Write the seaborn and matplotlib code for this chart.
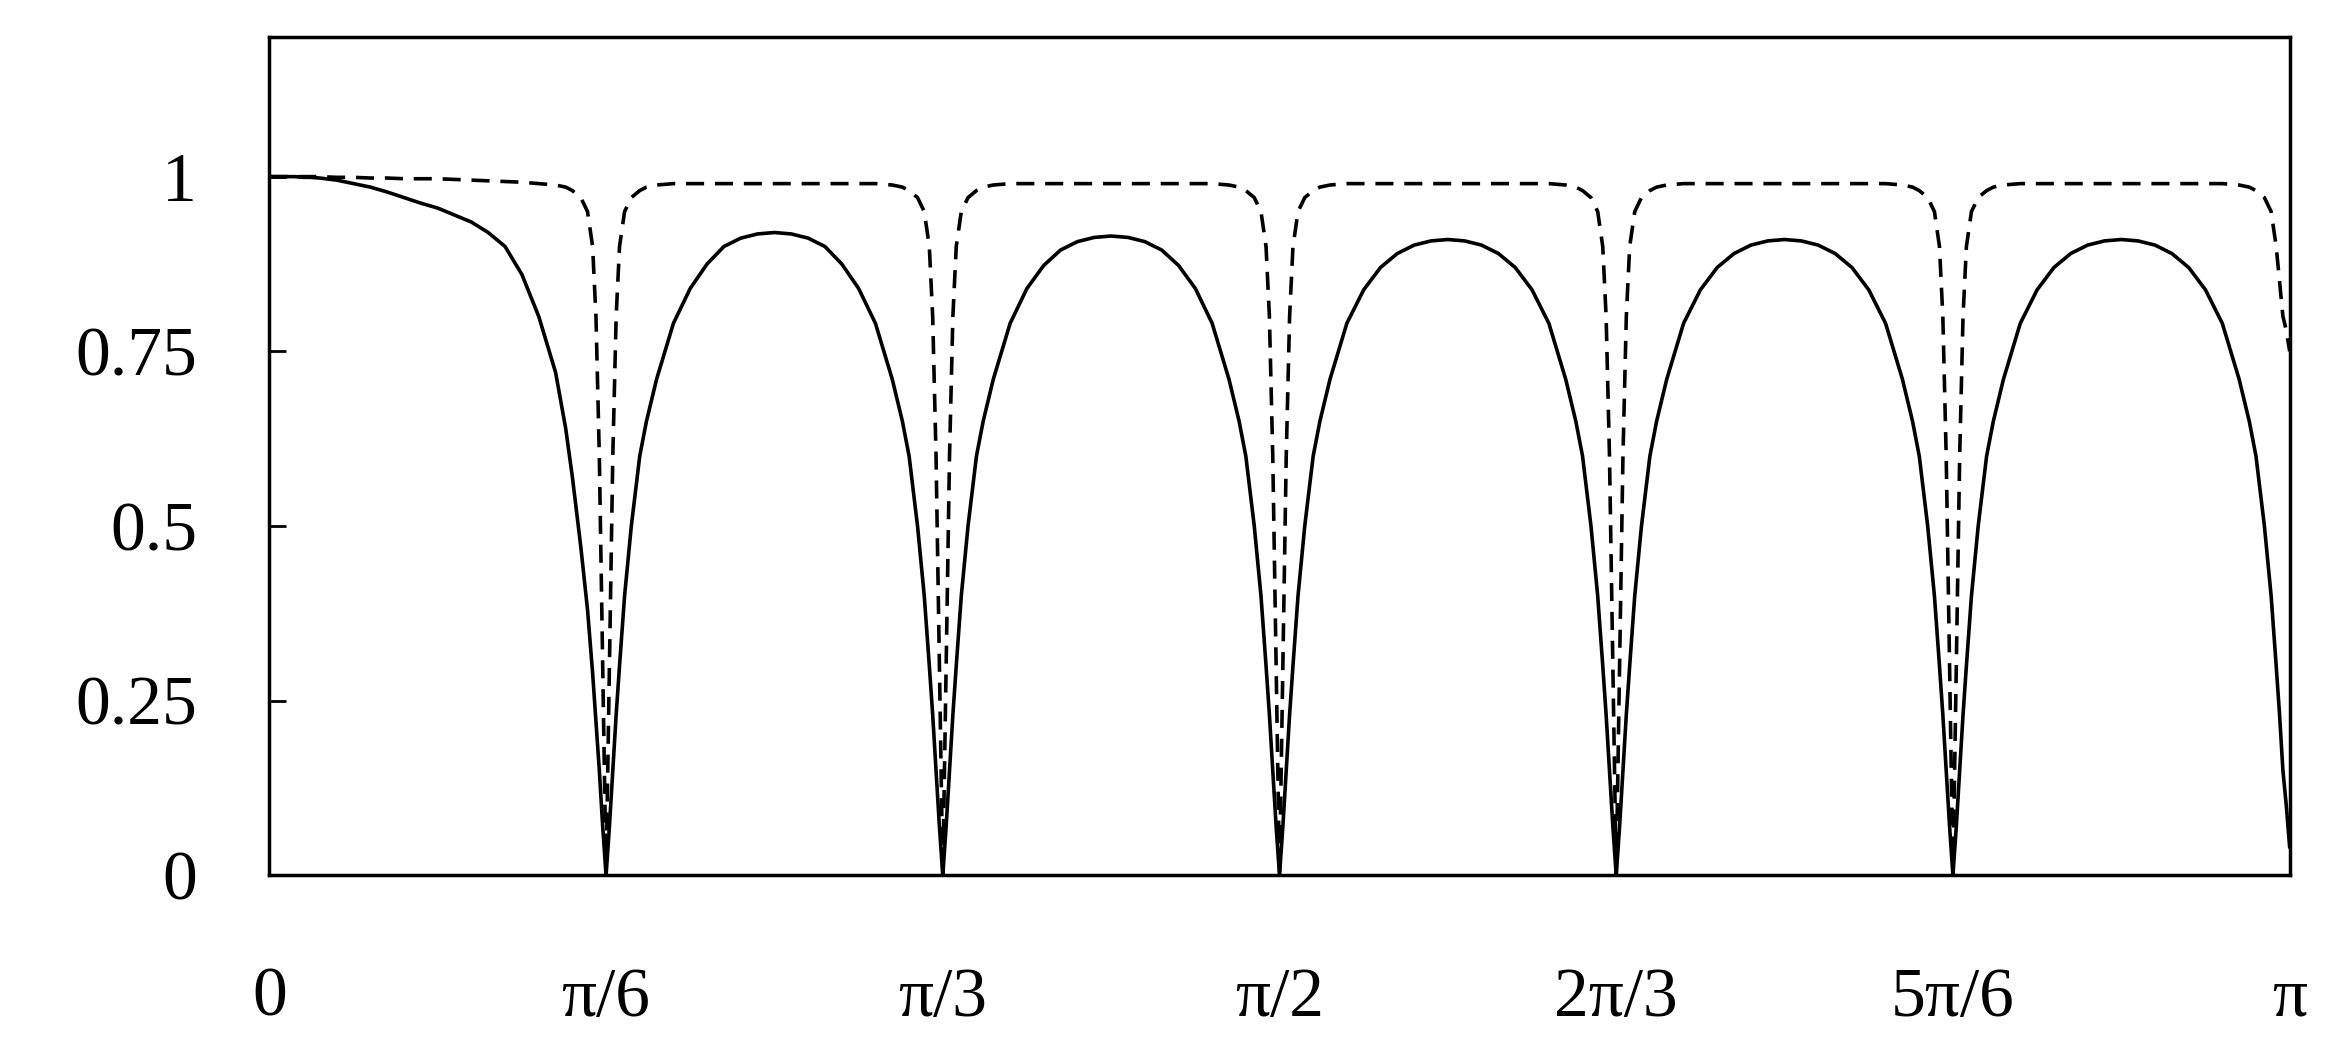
import numpy as np
import pandas as pd
import matplotlib
matplotlib.use("Agg")
import matplotlib.pyplot as plt
import seaborn as sns

# === datos ===
# posicion relativa dentro de cada lobulo (0 = minimo izquierdo, 1 = minimo derecho)
t_lobulo = [0, 0.01, 0.02, 0.03, 0.04, 0.055, 0.075, 0.1, 0.12, 0.15, 0.2, 0.25, 0.3,
            0.35, 0.4, 0.45, 0.5,
            0.55, 0.6, 0.65, 0.7, 0.75, 0.8, 0.85, 0.88, 0.9, 0.925, 0.945, 0.96,
            0.97, 0.98, 0.99, 1.0]

# curva continua, lobulo por lobulo
solida_1 = [1.0, 1.0, 1.0, 1.0, 1.0, 1.0, 1.0, 0.999, 0.999, 0.998, 0.995, 0.99, 0.985,
            0.978, 0.97, 0.962, 0.955,
            0.945, 0.935, 0.92, 0.9, 0.86, 0.8, 0.72, 0.64, 0.57, 0.47, 0.38, 0.29,
            0.22, 0.15, 0.07, 0.0]
solida_2 = [0.0, 0.07, 0.15, 0.23, 0.3, 0.4, 0.5, 0.6, 0.65, 0.71, 0.79, 0.84, 0.875,
            0.9, 0.912, 0.918, 0.92,
            0.918, 0.912, 0.9, 0.875, 0.84, 0.79, 0.71, 0.65, 0.6, 0.5, 0.4, 0.3,
            0.23, 0.15, 0.07, 0.0]
solida_3 = [0.0, 0.07, 0.15, 0.23, 0.3, 0.4, 0.5, 0.6, 0.65, 0.71, 0.79, 0.84, 0.873,
            0.895, 0.907, 0.913, 0.915,
            0.913, 0.907, 0.895, 0.873, 0.84, 0.79, 0.71, 0.65, 0.6, 0.5, 0.4, 0.3,
            0.23, 0.15, 0.07, 0.0]
solida_4 = [0.0, 0.07, 0.15, 0.23, 0.3, 0.4, 0.5, 0.6, 0.65, 0.71, 0.79, 0.838, 0.87,
            0.89, 0.902, 0.908, 0.91,
            0.908, 0.902, 0.89, 0.87, 0.838, 0.79, 0.71, 0.65, 0.6, 0.5, 0.4, 0.3,
            0.23, 0.15, 0.07, 0.0]
solida_5 = [0.0, 0.07, 0.15, 0.23, 0.3, 0.4, 0.5, 0.6, 0.65, 0.71, 0.79, 0.838, 0.87,
            0.89, 0.902, 0.908, 0.91,
            0.908, 0.902, 0.89, 0.87, 0.838, 0.79, 0.71, 0.65, 0.6, 0.5, 0.4, 0.3,
            0.23, 0.15, 0.07, 0.0]
solida_6 = [0.0, 0.07, 0.15, 0.23, 0.3, 0.4, 0.5, 0.6, 0.65, 0.71, 0.79, 0.838, 0.87,
            0.89, 0.902, 0.908, 0.91,
            0.908, 0.902, 0.89, 0.87, 0.838, 0.79, 0.71, 0.65, 0.6, 0.5, 0.4, 0.3,
            0.23, 0.15, 0.1, 0.04]

# curva discontinua
disc_1 = [1.0, 1.0, 1.0, 1.0, 1.0, 1.0, 1.0, 1.0, 1.0, 1.0, 0.999, 0.999, 0.998,
          0.998, 0.997, 0.997, 0.997,
          0.996, 0.995, 0.994, 0.993, 0.992, 0.99, 0.988, 0.985, 0.98, 0.97, 0.95, 0.9,
          0.8, 0.6, 0.3, 0.0]
disc_m = [0.0, 0.3, 0.6, 0.8, 0.9, 0.95, 0.97, 0.98, 0.985, 0.988, 0.99, 0.99, 0.99,
          0.99, 0.99, 0.99, 0.99,
          0.99, 0.99, 0.99, 0.99, 0.99, 0.99, 0.988, 0.985, 0.98, 0.97, 0.95, 0.9,
          0.8, 0.6, 0.3, 0.0]
disc_6 = [0.0, 0.3, 0.6, 0.8, 0.9, 0.95, 0.97, 0.98, 0.985, 0.988, 0.99, 0.99, 0.99,
          0.99, 0.99, 0.99, 0.99,
          0.99, 0.99, 0.99, 0.99, 0.99, 0.99, 0.988, 0.985, 0.98, 0.97, 0.95, 0.9,
          0.85, 0.8, 0.78, 0.75]

lobulos_solida = [solida_1, solida_2, solida_3, solida_4, solida_5, solida_6]
lobulos_disc = [disc_1, disc_m, disc_m, disc_m, disc_m, disc_6]

etiquetas_x = ["0", "π/6", "π/3", "π/2", "2π/3", "5π/6", "π"]
etiquetas_y = ["0", "0.25", "0.5", "0.75", "1"]

# === construir tabla ===
filas = []
for k in range(6):
    for t, ys, yd in zip(t_lobulo, lobulos_solida[k], lobulos_disc[k]):
        x = (k + t) * np.pi / 6
        filas.append({"x": x, "y": ys, "curva": "solida"})
        filas.append({"x": x, "y": yd, "curva": "discontinua"})
df = pd.DataFrame(filas)

sns.set_style("ticks")
plt.rcParams["font.family"] = ["Liberation Serif", "DejaVu Serif"]

fig = plt.figure(figsize=(23.34, 10.54), dpi=100)
ax = fig.add_axes([0.1154, 0.1695, 0.8656, 0.7955])

sns.lineplot(data=df, x="x", y="y", style="curva",
             dashes={"solida": "", "discontinua": (5, 3)},
             color="black", linewidth=2.6, legend=False, ax=ax, sort=False,
             estimator=None)

ax.set_xlim(0, np.pi)
ax.set_ylim(0, 1.2)
ax.set_xticks([i * np.pi / 6 for i in range(7)])
ax.set_xticklabels(etiquetas_x)
ax.set_yticks([0, 0.25, 0.5, 0.75, 1])
ax.set_yticklabels(etiquetas_y)
ax.tick_params(axis="x", direction="in", length=12, width=2, pad=66, labelsize=50,
               colors="black")
ax.tick_params(axis="y", direction="in", length=12, width=2, pad=52, labelsize=50,
               colors="black")
for s in ax.spines.values():
    s.set_linewidth(2.5)
    s.set_color("black")
ax.set_xlabel("")
ax.set_ylabel("")

plt.savefig("out.png", dpi=100)
plt.close()
